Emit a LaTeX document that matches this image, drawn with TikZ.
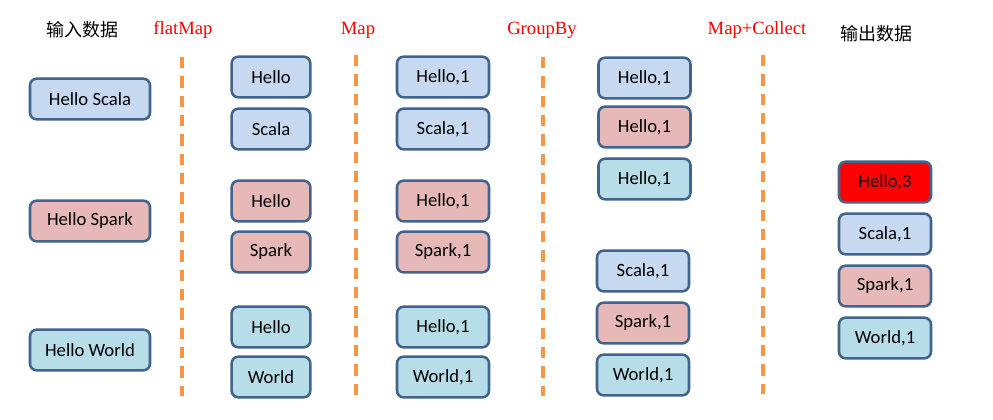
\documentclass[tikz,border=0pt]{standalone}
\usepackage{fontspec}
\setmainfont{Carlito}
\newfontfamily\cjkfont{Noto Sans CJK SC}
\newfontfamily\serifred{Liberation Serif}
\definecolor{bxblue}{HTML}{C6D9F1}
\definecolor{bxpink}{HTML}{E6B9B8}
\definecolor{bxcyan}{HTML}{B7DEE8}
\definecolor{bxedge}{HTML}{41648F}
\definecolor{dashor}{HTML}{F79646}
\tikzset{
  box/.style={draw=bxedge, line width=1.9pt, rounded corners=5pt, inner sep=0pt,
    minimum height=30.5pt, font=\fontsize{14}{16}\selectfont},
  inbox/.style={box, minimum width=90pt},
  fmbox/.style={box, minimum width=59pt},
  wbox/.style={box, minimum width=69pt},
  bl/.style={fill=bxblue}, pk/.style={fill=bxpink}, cy/.style={fill=bxcyan},
  rd/.style={fill=red},
  sep/.style={draw=dashor, line width=2.3pt, dash pattern=on 8.6pt off 5.9pt},
  oplabel/.style={text=red, font=\serifred\fontsize{14}{16}\selectfont},
  cjklabel/.style={font=\cjkfont\fontsize{13.5}{16}\selectfont}
}
\begin{document}
\begin{tikzpicture}[x=0.75pt,y=-0.75pt]
\useasboundingbox (0,0) rectangle (993,419);
% headers
\node[cjklabel] (hin) at (82,30) {输入数据};
\node[oplabel] (hfm) at (183,30) {flatMap};
\node[oplabel] (hmap) at (358,30) {Map};
\node[oplabel] (hgb) at (542,30) {GroupBy};
\node[oplabel] (hmc) at (757,30) {Map+Collect};
\node[cjklabel] (hout) at (876,34) {输出数据};
% separators
\coordinate (s1a) at (182,57); \coordinate (s1b) at (182,396);
\coordinate (s2a) at (356,55); \coordinate (s2b) at (356,396);
\coordinate (s3a) at (543,57); \coordinate (s3b) at (543,396);
\coordinate (s4a) at (763,55); \coordinate (s4b) at (763,394);
\draw[sep] (s1a) -- (s1b);
\draw[sep] (s2a) -- (s2b);
\draw[sep] (s3a) -- (s3b);
\draw[sep] (s4a) -- (s4b);
% input
\node[inbox,bl] (i1) at (90,99) {Hello Scala};
\node[inbox,pk] (i2) at (90,221) {Hello Spark};
\node[inbox,cy] (i3) at (90,350) {Hello World};
% flatMap
\node[fmbox,bl] (f1) at (271,77) {Hello};
\node[fmbox,bl] (f2) at (271,129) {Scala};
\node[fmbox,pk] (f3) at (271,201) {Hello};
\node[fmbox,pk] (f4) at (271,252) {Spark};
\node[fmbox,cy] (f5) at (271,327) {Hello};
\node[fmbox,cy] (f6) at (271,377) {World};
% map
\node[wbox,bl] (m1) at (443,77) {Hello,1};
\node[wbox,bl] (m2) at (443,129) {Scala,1};
\node[wbox,pk] (m3) at (443,201) {Hello,1};
\node[wbox,pk] (m4) at (443,252) {Spark,1};
\node[wbox,cy] (m5) at (443,327) {Hello,1};
\node[wbox,cy] (m6) at (443,377) {World,1};
% groupby
\node[wbox,bl] (g1) at (644.5,78) {Hello,1};
\node[wbox,pk] (g2) at (644.5,127) {Hello,1};
\node[wbox,cy] (g3) at (644.5,179) {Hello,1};
\node[wbox,bl] (g4) at (643,271) {Scala,1};
\node[wbox,pk] (g5) at (643,323) {Spark,1};
\node[wbox,cy] (g6) at (643,375) {World,1};
% output
\node[wbox,rd] (o1) at (885,182) {Hello,3};
\node[wbox,bl] (o2) at (885,234) {Scala,1};
\node[wbox,pk] (o3) at (885,286) {Spark,1};
\node[wbox,cy] (o4) at (885,338) {World,1};
\end{tikzpicture}
\end{document}
